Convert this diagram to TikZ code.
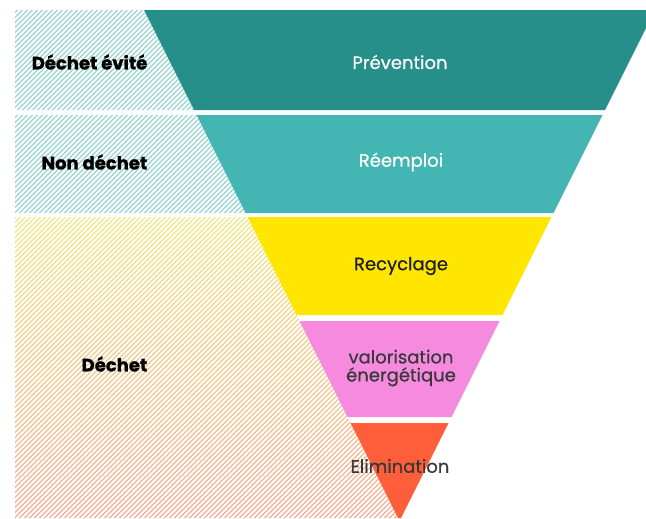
\documentclass[tikz,border=0pt]{standalone}
\usepackage{fontspec}
\setmainfont{Poppins}
\newfontfamily\medfont{Poppins}[FakeBold=0.5]
\newfontfamily\heavyfont{Poppins}[BoldFeatures={FakeBold=1.2}]
\usetikzlibrary{calc}

\definecolor{prevcor}{HTML}{268F8A}
\definecolor{reemcor}{HTML}{43B6B4}
\definecolor{recycor}{HTML}{FFE600}
\definecolor{valocor}{HTML}{F58ADF}
\definecolor{elimcor}{HTML}{FF5E3A}
\definecolor{hachteal}{HTML}{9AD6D3}
\definecolor{hachjaune}{HTML}{F2E886}
\definecolor{hachrose}{HTML}{F2C6EE}
\definecolor{hachsaumon}{HTML}{F7AE98}
\definecolor{txtescuro}{HTML}{1E1E1E}
\definecolor{txtcinza}{HTML}{383838}

\begin{document}
\begin{tikzpicture}[x=0.75pt,y=-0.75pt]
  %--------------------------------------------
  % Área da figura (em pixels da imagem)
  %--------------------------------------------
  \useasboundingbox (0,0) rectangle (646,518);
  \clip (0,0) rectangle (646,518);

  %--------------------------------------------
  % Estilos de texto
  %--------------------------------------------
  \tikzstyle{bandtext} = [
    font=\medfont\fontsize{13.5}{13.5}\selectfont, align=center   % texto dentro das faixas
  ]
  \tikzstyle{sidetext} = [
    font=\heavyfont\bfseries\fontsize{13.5}{14}\selectfont, anchor=east   % rótulos à esquerda
  ]

  %--------------------------------------------
  % Áreas hachuradas à esquerda
  %--------------------------------------------
  \fill[hachteal] (15,10) -- (144,10) -- (194,110) -- (15,110) -- cycle;
  \fill[hachteal] (15,115) -- (196.5,115) -- (245.5,213) -- (15,213) -- cycle;
  \shade[top color=hachjaune, middle color=hachrose, bottom color=hachsaumon]
    (15,217) -- (247.5,217) -- (398,518) -- (15,518) -- cycle;

  %--------------------------------------------
  % Listras brancas diagonais (hachura)
  %--------------------------------------------
  \begin{scope}
    \clip (15,0) rectangle (400,518);
    \foreach \c in {0,5,...,940}
      \draw[white, line width=1.35pt] (\c,0) -- ({\c-520},520);
  \end{scope}

  %--------------------------------------------
  % Faixas da pirâmide invertida
  %--------------------------------------------
  % bordas: x = 144 + (y-10)/2 à esquerda, x = 655 - (y-10)/2 à direita
  \foreach \yt/\yb/\cor in {10/110/prevcor, 115/213/reemcor, 217/315/recycor,
    321/417/valocor, 423/518/elimcor}
  {
    \fill[\cor] ({144+0.5*(\yt-10)},\yt) -- ({655-0.5*(\yt-10)},\yt)
      -- ({655-0.5*(\yb-10)},\yb) -- ({144+0.5*(\yb-10)},\yb) -- cycle;
  }

  %--------------------------------------------
  % Textos das faixas
  %--------------------------------------------
  \node[bandtext, text=white] (prevention) at (400,62) {Prévention};
  \node[bandtext, text=white] (reemploi) at (401,162) {Réemploi};
  \node[bandtext, text=txtescuro] (recyclage) at (401,266) {Recyclage};
  \node[bandtext, text=txtcinza] (valorisation) at (401,368) {valorisation\\énergétique};
  \node[bandtext, text=txtcinza] (elimination) at (400,466) {Elimination};

  %--------------------------------------------
  % Rótulos à esquerda
  %--------------------------------------------
  \node[sidetext] (evite) at (152,62) {Déchet évité};
  \node[sidetext] (nondechet) at (152,162) {Non déchet};
  \node[sidetext] (dechet) at (152,364) {Déchet};
\end{tikzpicture}
\end{document}
